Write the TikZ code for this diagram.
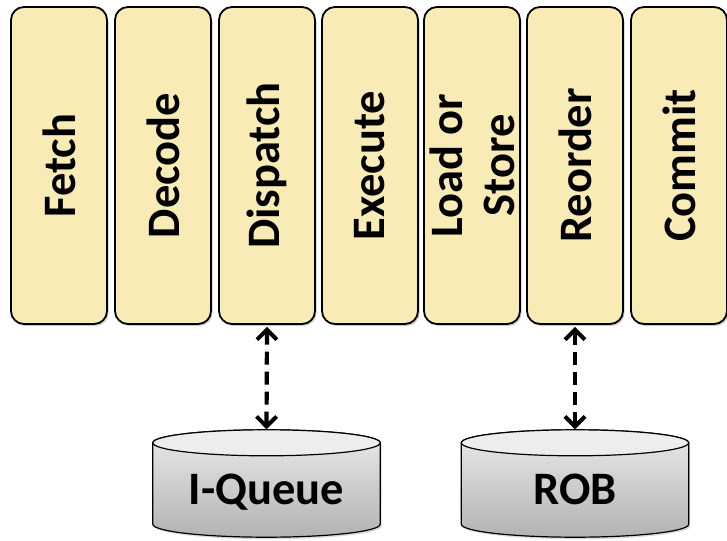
\documentclass[tikz,border=0pt]{standalone}
\usepackage{fontspec}
\setmainfont{Carlito}
\usetikzlibrary{arrows.meta,shadows,calc}

\definecolor{stagefill}{HTML}{F8EBB6}

\tikzset{
  stagebox/.style={draw=black, line width=1.8pt, fill=stagefill,
    rounded corners=13pt, minimum width=96pt, minimum height=317pt,
    inner sep=0pt,
    drop shadow={shadow xshift=1.5pt, shadow yshift=-2pt, opacity=0.35, fill=black!60}},
  stagelabel/.style={rotate=90, font=\fontsize{46.5}{52}\selectfont\bfseries,
    align=center, inner sep=0pt},
  storenode/.style={minimum width=227pt, minimum height=107pt, inner sep=0pt},
  storelabel/.style={font=\fontsize{46.5}{52}\selectfont\bfseries, anchor=base, inner sep=0pt},
  cylbody/.style={draw=black, line width=1.2pt, top color=black!8, bottom color=black!30},
  cyltop/.style={draw=black, line width=1.2pt, fill=black!7},
  barb/.tip={Straight Barb[length=10pt,width=20pt,line width=4pt]},
  link/.style={draw=black, line width=4.2pt, dash pattern=on 13pt off 7pt,
    arrows={barb-barb}},
}

% cylinder outline around a named store node; #1 = node, #2 = half height of the end ellipses
\newcommand{\drumshape}[2]{%
  \path let \p1=(#1.north west), \p2=(#1.south east) in
    [cylbody, drop shadow={shadow xshift=1.5pt, shadow yshift=-2pt, opacity=0.3}]
    (\x1,\y1-#2) -- (\x1,\y2+#2)
    arc[start angle=180, end angle=360, x radius=(\x2-\x1)/2, y radius=#2]
    -- (\x2,\y1-#2)
    arc[start angle=0, end angle=180, x radius=(\x2-\x1)/2, y radius=#2] -- cycle;
  \path let \p1=(#1.north west), \p2=(#1.south east) in
    [cyltop] ({(\x1+\x2)/2},\y1-#2) ellipse[x radius=(\x2-\x1)/2, y radius=#2];
}

\begin{document}
\begin{tikzpicture}[x=1pt,y=1pt]
  \useasboundingbox (0,0) rectangle (727,-540);

  % pipeline stages
  \node[stagebox] (fetch)    at (59,-165.5)  {};
  \node[stagebox] (decode)   at (163,-165.5) {};
  \node[stagebox] (dispatch) at (267,-165.5) {};
  \node[stagebox] (execute)  at (370,-165.5) {};
  \node[stagebox] (ldst)     at (472,-165.5) {};
  \node[stagebox] (reorder)  at (575,-165.5) {};
  \node[stagebox] (commit)   at (679,-165.5) {};

  \node[stagelabel] at (fetch)    {Fetch};
  \node[stagelabel] at (decode)   {Decode};
  \node[stagelabel] at (dispatch) {Dispatch};
  \node[stagelabel] at (execute)  {Execute};
  \node[stagelabel] at (ldst)     {Load or\\Store};
  \node[stagelabel] at (reorder)  {Reorder};
  \node[stagelabel] at (commit)   {Commit};

  % storage structures
  \node[storenode] (iqueue) at (266.5,-483.5) {};
  \node[storenode] (rob)    at (575,-483.5)   {};
  \drumshape{iqueue}{13pt}
  \drumshape{rob}{13pt}
  \node[storelabel] at ([yshift=-21pt]iqueue.center) {I-Queue};
  \node[storelabel] at ([yshift=-21pt]rob.center) {ROB};

  % links
  \draw[link] ([yshift=-2pt]dispatch.south) -- ([yshift=0.5pt]iqueue.north);
  \draw[link] ([yshift=-2pt]reorder.south) -- ([yshift=0.5pt]rob.north);
\end{tikzpicture}
\end{document}
